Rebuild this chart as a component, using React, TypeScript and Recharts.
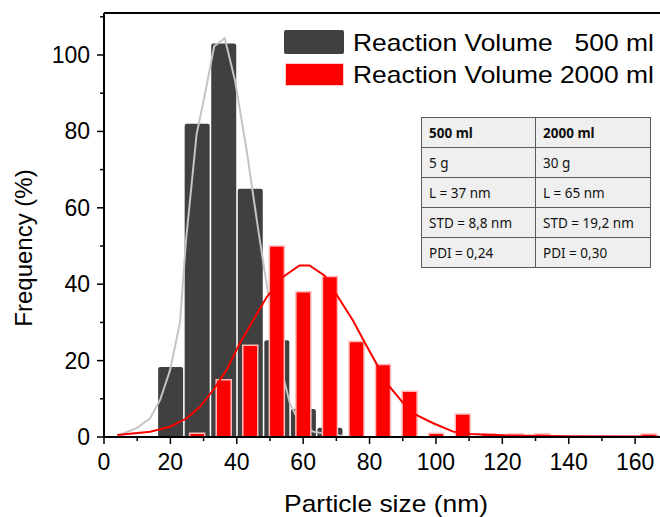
import { ComposedChart, Bar, Line, XAxis, YAxis, ReferenceLine } from 'recharts';

// histogram bins (nm) and frequencies (%)
const binCenters = [20, 28, 36, 44, 52, 60, 68, 76, 84, 92, 100, 108, 116, 124, 132, 140, 148, 156, 164];
const freq500 = [18.3, 82, 103, 65, 25.3, 7.3, 2.4, null, null, null, null, null, null, null, null, null, null, null, null];
const freq2000 = [null, 1, 15, 24, 50, 38, 42, 25, 19, 12, 1, 6, 0.8, 0.8, 0.8, null, null, null, 0.8];

// fitted distribution curves
const fit500X = [4.3, 9.8, 13.9, 16.9, 19.9, 22.9, 24.7, 27.9, 30.4, 33.2, 36.4, 39.5, 43, 46.5, 49, 51.5, 53.5, 56, 59, 63, 69, 72];
const fit500Y = [0.4, 2.3, 4.9, 9.7, 17.5, 30, 51.4, 79.3, 89.7, 102.3, 104.4, 93.2, 74.9, 54, 40, 26, 17.5, 8.8, 3.6, 1.4, 0.5, 0.3];
const fit2000X = [4, 13.9, 19.9, 24.9, 28.9, 32.9, 36.9, 40.9, 44.9, 49, 53.9, 58.9, 61.9, 66.4, 69.9, 75, 79, 82.1, 86.1, 90.2, 94.2, 99.2, 105.2, 110.2, 122.3, 140, 167];
const fit2000Y = [0.5, 1.4, 2.7, 4.9, 7.9, 12.3, 17.5, 24.5, 30.5, 36.6, 41.9, 44.9, 44.9, 42.3, 37.5, 30.5, 24, 19.2, 13.1, 8.8, 5.7, 3.6, 1.4, 0.8, 0.4, 0.2, 0.1];

const xTicks = [0, 10, 20, 30, 40, 50, 60, 70, 80, 90, 100, 110, 120, 130, 140, 150, 160];
const yTicks = [0, 10, 20, 30, 40, 50, 60, 70, 80, 90, 100, 110];

const tableHead = ['500 ml', '2000 ml'];
const tableRows = [
  ['5 g', '30 g'],
  ['L = 37 nm', 'L = 65 nm'],
  ['STD = 8,8 nm', 'STD = 19,2 nm'],
  ['PDI = 0,24', 'PDI = 0,30'],
];

const bins = binCenters.map((x, i) => ({ x, d500: freq500[i], d2000: freq2000[i] }));
const fit500 = fit500X.map((x, i) => ({ x, y: fit500Y[i] }));
const fit2000 = fit2000X.map((x, i) => ({ x, y: fit2000Y[i] }));

const X_DOMAIN = [0, 167.5];
const FONT = '"Liberation Sans", Arial, sans-serif';

const XTick = (props: any) => {
  const { x, y, payload } = props;
  const major = payload.value % 20 === 0;
  return (
    <g>
      <line x1={x} x2={x} y1={y} y2={y + (major ? 7 : 4)} stroke="#000" strokeWidth={1.5} />
      {major && (
        <text x={x} y={y + 33} textAnchor="middle" fontSize={23} fill="#000" fontFamily={FONT}>
          {payload.value}
        </text>
      )}
    </g>
  );
};

const YTick = (props: any) => {
  const { x, y, payload } = props;
  const major = payload.value % 20 === 0;
  return (
    <g>
      <line x1={x - (major ? 7 : 4)} x2={x} y1={y} y2={y} stroke="#000" strokeWidth={1.5} />
      {major && (
        <text x={x - 14} y={y + 8} textAnchor="end" fontSize={23} fill="#000" fontFamily={FONT}>
          {payload.value}
        </text>
      )}
    </g>
  );
};

const cell = {
  height: 30,
  display: 'flex',
  alignItems: 'center',
  paddingLeft: 7,
  boxSizing: 'border-box' as const,
  borderBottom: '1.5px solid #5a5a5a',
};

export default function App() {
  return (
    <div style={{ position: 'absolute', left: 0, top: 0, width: 660, height: 517, background: '#fff', overflow: 'hidden' }}>
      <ComposedChart
        width={660}
        height={517}
        data={bins}
        margin={{ top: 13, right: 0, bottom: 40, left: 44 }}
        style={{ fontFamily: FONT }}
      >
        <XAxis
          xAxisId="main"
          dataKey="x"
          type="number"
          domain={X_DOMAIN}
          allowDataOverflow
          ticks={xTicks}
          interval={0}
          height={40}
          tickSize={0}
          tickMargin={0}
          tick={<XTick />}
          axisLine={{ stroke: '#000', strokeWidth: 2 }}
        />
        <XAxis xAxisId="red" dataKey="x" type="number" domain={X_DOMAIN} allowDataOverflow hide height={0} orientation="top" />
        <XAxis xAxisId="fit" dataKey="x" type="number" domain={X_DOMAIN} allowDataOverflow hide height={0} orientation="top" />
        <YAxis
          type="number"
          domain={[0, 111]}
          allowDataOverflow
          ticks={yTicks}
          interval={0}
          width={60}
          tickSize={0}
          tickMargin={0}
          tick={<YTick />}
          axisLine={{ stroke: '#000', strokeWidth: 2 }}
        />
        <ReferenceLine xAxisId="main" y={111} stroke="#000" strokeWidth={2} />
        <Bar
          xAxisId="main"
          dataKey="d500"
          fill="#404040"
          barSize={25}
          radius={[2, 2, 0, 0]}
          isAnimationActive={false}
          zIndex={300}
        />
        <Line
          xAxisId="fit"
          data={fit500}
          dataKey="y"
          type="linear"
          stroke="#c4c4c4"
          strokeWidth={2}
          dot={false}
          isAnimationActive={false}
          zIndex={310}
        />
        <Bar
          xAxisId="red"
          dataKey="d2000"
          fill="#ff0000"
          stroke="#ffbcbc"
          strokeWidth={1.5}
          barSize={15}
          isAnimationActive={false}
          zIndex={320}
        />
        <Line
          xAxisId="fit"
          data={fit2000}
          dataKey="y"
          type="linear"
          stroke="#ff0000"
          strokeWidth={2}
          dot={false}
          isAnimationActive={false}
          zIndex={330}
        />
      </ComposedChart>

      {/* legend */}
      <div style={{ position: 'absolute', left: 284, top: 30, width: 60, height: 24, background: '#404040', borderRadius: 2 }} />
      <div style={{ position: 'absolute', left: 286, top: 64, width: 57, height: 21, background: '#ff0000', outline: '1px solid #ffc8c8' }} />
      <div
        style={{
          position: 'absolute', left: 353, top: 31, fontFamily: FONT, fontSize: 24, lineHeight: '24px',
          whiteSpace: 'pre', transform: 'scaleX(1.1)', transformOrigin: 'left',
        }}
      >
        {'Reaction Volume   500 ml'}
      </div>
      <div
        style={{
          position: 'absolute', left: 353, top: 63, fontFamily: FONT, fontSize: 24, lineHeight: '24px',
          whiteSpace: 'pre', transform: 'scaleX(1.1)', transformOrigin: 'left',
        }}
      >
        {'Reaction Volume 2000 ml'}
      </div>

      {/* axis titles */}
      <div
        style={{
          position: 'absolute', left: 386, top: 492, fontFamily: FONT, fontSize: 24, lineHeight: '24px',
          whiteSpace: 'nowrap', transform: 'translateX(-50%) scaleX(1.1)',
        }}
      >
        Particle size (nm)
      </div>
      <div
        style={{
          position: 'absolute', left: 24, top: 248, fontFamily: FONT, fontSize: 24, lineHeight: '24px',
          whiteSpace: 'nowrap', transform: 'translate(-50%, -50%) rotate(-90deg)',
        }}
      >
        Frequency (%)
      </div>

      {/* summary table */}
      <div
        style={{
          position: 'absolute', left: 421, top: 117, width: 228, display: 'flex',
          border: '1.5px solid #5a5a5a', borderBottom: 'none', background: '#efefef',
          fontFamily: '"Noto Sans", sans-serif', fontSize: 13.5, color: '#111',
        }}
      >
        {[0, 1].map((c) => (
          <div key={c} style={{ flex: c === 0 ? '0 0 113px' : '1 1 auto', borderLeft: c === 1 ? '1.5px solid #5a5a5a' : 'none' }}>
            <div style={{ ...cell, fontWeight: 700 }}>{tableHead[c]}</div>
            {tableRows.map((r, i) => (
              <div key={i} style={cell}>{r[c]}</div>
            ))}
          </div>
        ))}
      </div>
    </div>
  );
}
